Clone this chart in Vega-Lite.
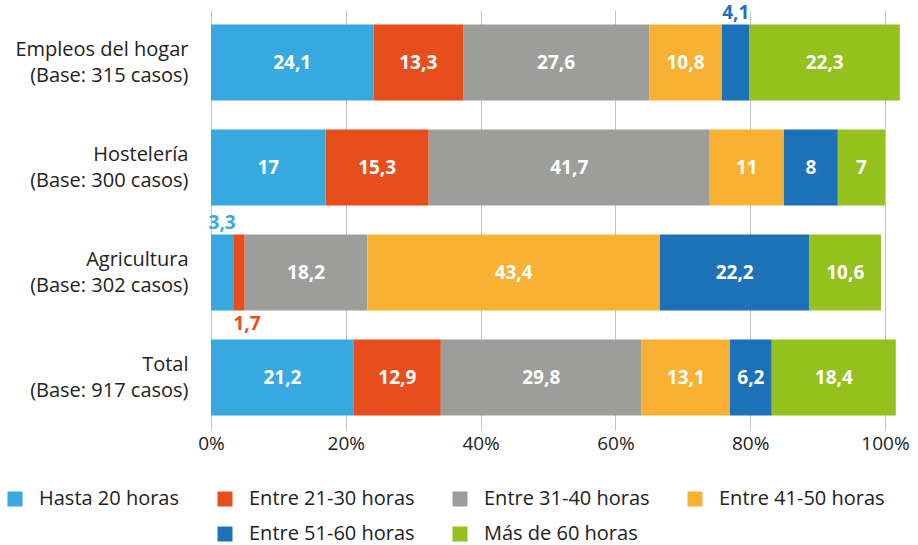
{
  "$schema": "https://vega.github.io/schema/vega-lite/v6.json",
  "width": 674,
  "height": 420,
  "autosize": {"type": "none"},
  "padding": {"left": 211, "top": 10, "right": 33, "bottom": 115},
  "background": "white",
  "config": {
    "view": {"stroke": null},
    "font": "Open Sans",
    "locale": {"number": {"decimal": ",", "thousands": ".", "grouping": [3], "currency": ["", " €"]}}
  },
  "data": {
    "values": [
      {"group": "Empleos del hogar\n(Base: 315 casos)", "cat": "Hasta 20 horas", "value": 24.1},
      {"group": "Empleos del hogar\n(Base: 315 casos)", "cat": "Entre 21-30 horas", "value": 13.3},
      {"group": "Empleos del hogar\n(Base: 315 casos)", "cat": "Entre 31-40 horas", "value": 27.6},
      {"group": "Empleos del hogar\n(Base: 315 casos)", "cat": "Entre 41-50 horas", "value": 10.8},
      {"group": "Empleos del hogar\n(Base: 315 casos)", "cat": "Entre 51-60 horas", "value": 4.1},
      {"group": "Empleos del hogar\n(Base: 315 casos)", "cat": "Más de 60 horas", "value": 22.3},
      {"group": "Hostelería\n(Base: 300 casos)", "cat": "Hasta 20 horas", "value": 17},
      {"group": "Hostelería\n(Base: 300 casos)", "cat": "Entre 21-30 horas", "value": 15.3},
      {"group": "Hostelería\n(Base: 300 casos)", "cat": "Entre 31-40 horas", "value": 41.7},
      {"group": "Hostelería\n(Base: 300 casos)", "cat": "Entre 41-50 horas", "value": 11},
      {"group": "Hostelería\n(Base: 300 casos)", "cat": "Entre 51-60 horas", "value": 8},
      {"group": "Hostelería\n(Base: 300 casos)", "cat": "Más de 60 horas", "value": 7},
      {"group": "Agricultura\n(Base: 302 casos)", "cat": "Hasta 20 horas", "value": 3.3},
      {"group": "Agricultura\n(Base: 302 casos)", "cat": "Entre 21-30 horas", "value": 1.7},
      {"group": "Agricultura\n(Base: 302 casos)", "cat": "Entre 31-40 horas", "value": 18.2},
      {"group": "Agricultura\n(Base: 302 casos)", "cat": "Entre 41-50 horas", "value": 43.4},
      {"group": "Agricultura\n(Base: 302 casos)", "cat": "Entre 51-60 horas", "value": 22.2},
      {"group": "Agricultura\n(Base: 302 casos)", "cat": "Más de 60 horas", "value": 10.6},
      {"group": "Total\n(Base: 917 casos)", "cat": "Hasta 20 horas", "value": 21.2},
      {"group": "Total\n(Base: 917 casos)", "cat": "Entre 21-30 horas", "value": 12.9},
      {"group": "Total\n(Base: 917 casos)", "cat": "Entre 31-40 horas", "value": 29.8},
      {"group": "Total\n(Base: 917 casos)", "cat": "Entre 41-50 horas", "value": 13.1},
      {"group": "Total\n(Base: 917 casos)", "cat": "Entre 51-60 horas", "value": 6.2},
      {"group": "Total\n(Base: 917 casos)", "cat": "Más de 60 horas", "value": 18.4}
    ]
  },
  "transform": [
    {"calculate": "indexof(['Hasta 20 horas','Entre 21-30 horas','Entre 31-40 horas','Entre 41-50 horas','Entre 51-60 horas','Más de 60 horas'], datum.cat)", "as": "k"},
    {"stack": "value", "groupby": ["group"], "sort": [{"field": "k", "order": "ascending"}], "as": ["v0", "v1"]},
    {"calculate": "(datum.v0 + datum.v1) / 2", "as": "vm"}
  ],
  "encoding": {
    "y": {
      "field": "group",
      "type": "nominal",
      "sort": null,
      "title": null,
      "scale": {"paddingInner": 0.276, "paddingOuter": 0.138},
      "axis": {
        "domain": false,
        "ticks": false,
        "labelExpr": "split(datum.label, '\\n')",
        "labelFontSize": 20,
        "labelLineHeight": 26,
        "labelColor": "#222222",
        "labelPadding": 23,
        "labelOffset": -13,
        "labelFont": "Open Sans"
      }
    }
  },
  "layer": [
    {
      "mark": {"type": "bar", "clip": false},
      "encoding": {
        "x": {
          "field": "v0",
          "type": "quantitative",
          "scale": {"domain": [0, 100], "nice": false},
          "title": null,
          "axis": {
            "values": [0, 20, 40, 60, 80, 100],
            "labelExpr": "datum.value + '%'",
            "labelFlush": false,
            "domain": false,
            "ticks": false,
            "grid": true,
            "gridColor": "#c4c4c4",
            "gridWidth": 1,
            "labelFontSize": 19,
            "labelColor": "#222222",
            "labelPadding": 4,
            "labelFont": "Open Sans"
          }
        },
        "x2": {"field": "v1"},
        "color": {
          "field": "cat",
          "type": "nominal",
          "scale": {
            "domain": ["Hasta 20 horas", "Entre 21-30 horas", "Entre 31-40 horas", "Entre 41-50 horas", " ", "Entre 51-60 horas", "Más de 60 horas"],
            "range": ["#38a9e0", "#e84e1b", "#9d9d9c", "#f8b133", "transparent", "#1d71b8", "#95c11f"]
          },
          "legend": {
            "title": null,
            "orient": "none",
            "legendX": -206,
            "legendY": 479,
            "direction": "horizontal",
            "columns": 4,
            "symbolType": "square",
            "symbolSize": 225,
            "symbolStrokeWidth": 0,
            "labelFontSize": 20,
            "labelColor": "#222222",
            "labelFont": "Open Sans",
            "labelOffset": 14,
            "columnPadding": 35,
            "rowPadding": 15,
            "labelLimit": 300
          }
        }
      }
    },
    {
      "transform": [{"filter": "datum.value >= 5"}],
      "mark": {"type": "text", "color": "white", "fontWeight": "bold", "fontSize": 19, "font": "Open Sans", "baseline": "middle", "align": "center"},
      "encoding": {
        "x": {"field": "vm", "type": "quantitative"},
        "text": {"field": "value", "type": "quantitative", "format": ".1~f"}
      }
    },
    {
      "transform": [{"filter": "datum.value < 5 && datum.cat != 'Entre 21-30 horas'"}],
      "mark": {"type": "text", "fontWeight": "bold", "fontSize": 19, "font": "Open Sans", "baseline": "middle", "align": "center", "dy": -50},
      "encoding": {
        "x": {"field": "vm", "type": "quantitative"},
        "text": {"field": "value", "type": "quantitative", "format": ".1~f"},
        "color": {"field": "cat", "type": "nominal"}
      }
    },
    {
      "transform": [{"filter": "datum.value < 5 && datum.cat == 'Entre 21-30 horas'"}],
      "mark": {"type": "text", "fontWeight": "bold", "fontSize": 19, "font": "Open Sans", "baseline": "middle", "align": "center", "dy": 51, "dx": 8},
      "encoding": {
        "x": {"field": "vm", "type": "quantitative"},
        "text": {"field": "value", "type": "quantitative", "format": ".1~f"},
        "color": {"field": "cat", "type": "nominal"}
      }
    }
  ]
}
